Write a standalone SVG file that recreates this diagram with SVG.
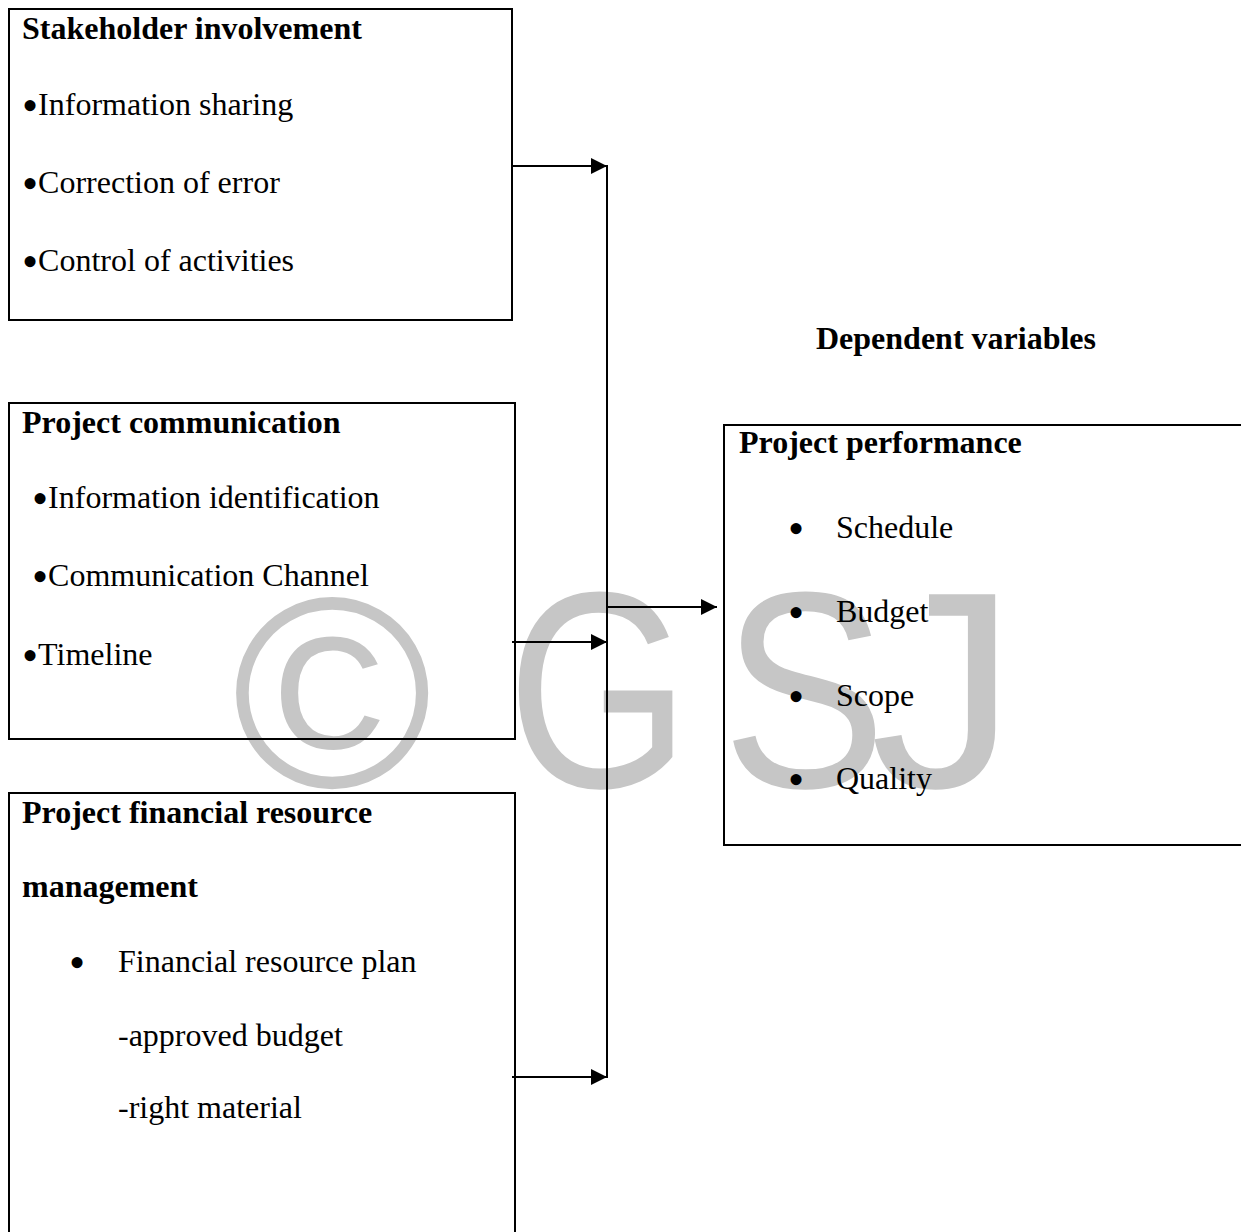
<svg xmlns="http://www.w3.org/2000/svg" width="1241" height="1232" viewBox="0 0 1241 1232">
<style>
.box{fill:none;stroke:#000;stroke-width:2}
.t{font-family:"Liberation Serif","Times New Roman",serif;font-size:32px;fill:#000}
.b{font-weight:bold}
.bul{font-size:46px}
.conn{fill:none;stroke:#000;stroke-width:2}
.wm{font-family:"Liberation Sans",Arial,sans-serif;fill:#c6c6c6}
</style>
<defs>
<marker id="arr" markerUnits="userSpaceOnUse" markerWidth="17" markerHeight="16" refX="16" refY="8" orient="auto">
<path d="M0,0 L16,8 L0,16 Z" fill="#000"/>
</marker>
</defs>
<rect x="0" y="0" width="1241" height="1232" fill="#fff"/>
<g id="watermark">
<text class="wm" x="0" y="0" font-size="272" transform="translate(232,787)">©</text>
<text class="wm" x="0" y="0" font-size="280" transform="translate(507,787) scale(0.84,1)">G</text>
<text class="wm" x="0" y="0" font-size="280" transform="translate(722,787) scale(0.88,1)">S</text>
<text class="wm" x="0" y="0" font-size="280" transform="translate(870,787) scale(1.05,1)">J</text>
</g>
<g id="stakeholder">
<rect class="box" x="9" y="9" width="503" height="311"/>
<text class="t b" x="22" y="39">Stakeholder involvement</text>
<text class="t" x="22" y="115"><tspan class="bul" dy="6">•</tspan><tspan dy="-6">Information sharing</tspan></text>
<text class="t" x="22" y="193"><tspan class="bul" dy="6">•</tspan><tspan dy="-6">Correction of error</tspan></text>
<text class="t" x="22" y="271"><tspan class="bul" dy="6">•</tspan><tspan dy="-6">Control of activities</tspan></text>
</g>
<g id="communication">
<rect class="box" x="9" y="403" width="506" height="336"/>
<text class="t b" x="22" y="433">Project communication</text>
<text class="t" x="32" y="508"><tspan class="bul" dy="6">•</tspan><tspan dy="-6">Information identification</tspan></text>
<text class="t" x="32" y="586"><tspan class="bul" dy="6">•</tspan><tspan dy="-6">Communication Channel</tspan></text>
<text class="t" x="22" y="665"><tspan class="bul" dy="6">•</tspan><tspan dy="-6">Timeline</tspan></text>
</g>
<g id="financial">
<rect class="box" x="9" y="793" width="506" height="450"/>
<text class="t b" x="22" y="823">Project financial resource</text>
<text class="t b" x="22" y="897">management</text>
<text class="t bul" x="69" y="978">•</text>
<text class="t" x="118" y="972">Financial resource plan</text>
<text class="t" x="118" y="1046">-approved budget</text>
<text class="t" x="118" y="1118">-right material</text>
</g>
<g id="dependent-label">
<text class="t b" x="816" y="349">Dependent variables</text>
</g>
<g id="performance">
<rect class="box" x="724" y="425" width="530" height="420"/>
<text class="t b" x="739" y="453">Project performance</text>
<text class="t bul" x="788" y="544">•</text>
<text class="t" x="836" y="538">Schedule</text>
<text class="t bul" x="788" y="628">•</text>
<text class="t" x="836" y="622">Budget</text>
<text class="t bul" x="788" y="712">•</text>
<text class="t" x="836" y="706">Scope</text>
<text class="t bul" x="788" y="795">•</text>
<text class="t" x="836" y="789">Quality</text>
</g>
<g id="connectors">
<line class="conn" x1="512" y1="166" x2="607" y2="166" marker-end="url(#arr)"/>
<line class="conn" x1="512" y1="642" x2="607" y2="642" marker-end="url(#arr)"/>
<line class="conn" x1="512" y1="1077" x2="607" y2="1077" marker-end="url(#arr)"/>
<line class="conn" x1="607" y1="165" x2="607" y2="1078"/>
<line class="conn" x1="607" y1="607" x2="717" y2="607" marker-end="url(#arr)"/>
</g>
</svg>
